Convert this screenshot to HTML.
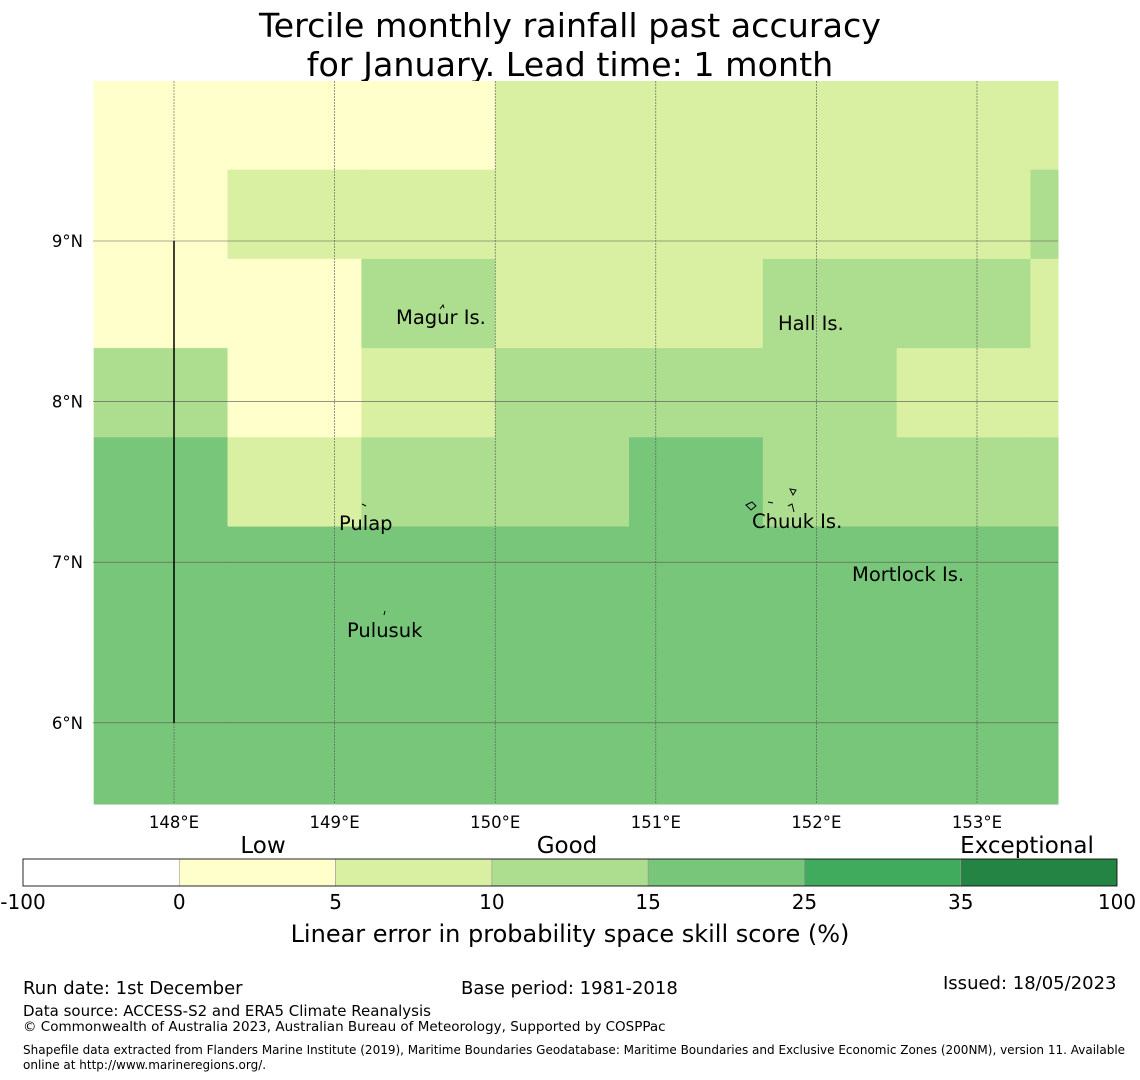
<!DOCTYPE html>
<html><head><meta charset="utf-8"><style>
body{margin:0;background:#fff;}
svg{display:block;font-family:"DejaVu Sans","Liberation Sans",sans-serif;}
</style></head><body>
<svg id="s" width="1140" height="1080" viewBox="0 0 1140 1080">
<text x="570" y="37" font-size="33.3" text-anchor="middle">Tercile monthly rainfall past accuracy</text>
<text x="570" y="76" font-size="33.3" text-anchor="middle">for January. Lead time: 1 month</text>
<g id="cells"></g>
<g id="grid"></g>
<line x1="174" y1="241" x2="174" y2="723" stroke="#000" stroke-width="1.5"/>
<g font-size="19.5">
<text x="396" y="324">Magur Is.</text>
<text x="778" y="330">Hall Is.</text>
<text x="339" y="530">Pulap</text>
<text x="752" y="528">Chuuk Is.</text>
<text x="852" y="581">Mortlock Is.</text>
<text x="347" y="637">Pulusuk</text>
</g>
<g fill="none" stroke="#000" stroke-width="1">
<path d="M440 309 l3 -4 l1 3"/><path d="M362 504 l4 2"/><path d="M384 615 l1 -4"/>
<path d="M746 505 l6 -3 l4 4 l-5 4 z"/><path d="M768 502 l5 1"/><path d="M790 489 l6 1 l-3 5 z"/><path d="M788 506 l4 -2 l2 8"/>
</g>
<g id="axes" font-size="16.5"></g>
<g id="cbar"></g>
<text x="570" y="942" font-size="24" text-anchor="middle">Linear error in probability space skill score (%)</text>
<g font-size="18">
<text x="23" y="994">Run date: 1st December</text>
<text x="461" y="994">Base period: 1981-2018</text>
<text x="943" y="989">Issued: 18/05/2023</text>
<text x="23" y="1016" font-size="15">Data source: ACCESS-S2 and ERA5 Climate Reanalysis</text>
<text x="23" y="1031" font-size="13.5">© Commonwealth of Australia 2023, Australian Bureau of Meteorology, Supported by COSPPac</text>
<text x="23" y="1054" font-size="12">Shapefile data extracted from Flanders Marine Institute (2019), Maritime Boundaries Geodatabase: Maritime Boundaries and Exclusive Economic Zones (200NM), version 11. Available</text>
<text x="23" y="1069" font-size="12">online at http://www.marineregions.org/.</text>
</g>
</svg>
<script>
const NS="http://www.w3.org/2000/svg";
// data
const levelColors=["#ffffff","#ffffcc","#d9f0a3","#addd8e","#78c679","#41ab5d","#238443"];
const boundLabels=["-100","0","5","10","15","25","35","100"];
const categoryLabels=["Low","Good","Exceptional"];
// grid rows top->bottom, value = color level index
const gridRows=[
[1,1,1,2,2,2,2,2],
[1,2,2,2,2,2,2,3],
[1,1,3,2,2,3,3,2],
[3,1,2,3,3,3,2,2],
[4,2,3,3,4,3,3,3],
[4,4,4,4,4,4,4,4],
[4,4,4,4,4,4,4,4],
[4,4,4,4,4,4,4,4],
[4,4,4,4,4,4,4,4]];
const lonTicks=[148,149,150,151,152,153];
const latTicks=[9,8,7,6];
const lon0=147.5, lonStep=0.8333, lat0=10.0, latStep=0.5556;
// axis functions
const X=lon=>174+(lon-148)*160.6;
const Y=lat=>241-(lat-9)*160.6;
const L=93,R=1058,T=81,B=804;
function el(t,a,p){const e=document.createElementNS(NS,t);for(const k in a)e.setAttribute(k,a[k]);p.appendChild(e);return e;}
const cells=document.getElementById('cells');
gridRows.forEach((row,r)=>row.forEach((v,c)=>{
 const x1=Math.max(L,X(lon0+c*lonStep)),x2=Math.min(R,X(lon0+(c+1)*lonStep));
 const y1=Math.max(T,Y(lat0-r*latStep)),y2=Math.min(B,Y(lat0-(r+1)*latStep));
 if(x2<=x1||y2<=y1)return;
 const e=el('rect',{x:x1,y:y1,width:x2-x1+0.5,height:y2-y1+0.5,fill:levelColors[v]},cells);
 
 
}));
const g=document.getElementById('grid'),ax=document.getElementById('axes');
lonTicks.forEach(l=>{
 const e=el('line',{x1:X(l),x2:X(l),y1:T,y2:B,stroke:'#555','stroke-width':0.6,'stroke-dasharray':'2,1'},g);
 
 
 const t=el('text',{x:X(l),y:828,'text-anchor':'middle'},ax);t.textContent=l+'°E';
 
 
});
latTicks.forEach(l=>{
 const e=el('line',{x1:L,x2:R,y1:Y(l),y2:Y(l),stroke:'#555','stroke-width':0.6},g);
 
 
 const t=el('text',{x:83,y:Y(l)+6,'text-anchor':'end'},ax);t.textContent=l+'°N';
 
 
});
const cb=document.getElementById('cbar');
const cx0=23,cx1=1117,cy=859,ch=27,w=(cx1-cx0)/levelColors.length;
levelColors.forEach((c,i)=>{
 const e=el('rect',{x:cx0+i*w,y:cy,width:w,height:ch,fill:c,stroke:'#999','stroke-width':0.6},cb);
 
 
});
el('rect',{x:cx0,y:cy,width:cx1-cx0,height:ch,fill:'none',stroke:'#000','stroke-width':0.8},cb);
boundLabels.forEach((b,i)=>{
 const t=el('text',{x:cx0+i*w,y:909,'text-anchor':'middle','font-size':20},cb);t.textContent=b;
 
 
});
const catX=[263,567,1027];
categoryLabels.forEach((c,i)=>{
 const t=el('text',{x:catX[i],y:853,'text-anchor':'middle','font-size':23},cb);t.textContent=c;
 
 
});
</script>
</body></html>
